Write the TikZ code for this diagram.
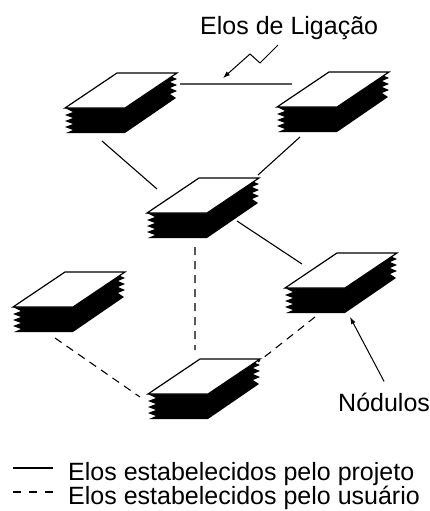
\documentclass[tikz,border=0pt]{standalone}
\usepackage{fontspec}
\setmainfont{Liberation Sans}
\usetikzlibrary{calc,arrows.meta}

\begin{document}
\begin{tikzpicture}[x=1pt,y=-1pt,
  every node/.style={font=\fontsize{25}{22}\selectfont,inner sep=0pt},
  link/.style={line width=1.1pt},
  userlink/.style={line width=1.1pt,dash pattern=on 8pt off 6pt},
  pointer/.style={line width=1pt,-{Latex[length=7pt,width=5pt]}},
  pics/stack/.style={code={
    \fill (0,0) -- (60,0) -- (112,-35) -- (105,-32) -- (112,-29) -- (105,-26)
      -- (112,-23) -- (105,-20) -- (112,-17) -- (105,-14) -- (111,-10)
      -- (60,25) -- (1,25) -- (8,22) -- (0,19) -- (8,16) -- (0,13)
      -- (8,10) -- (0,7) -- (8,4) -- cycle;
    \draw[fill=white,line width=1.2pt] (0,0) -- (60,0) -- (112,-35) -- (52,-35) -- cycle;
  }}]
\useasboundingbox (0,0) rectangle (430,511);

%%% the six stacks of nodules %%%
  \coordinate (s1) at (65,108);
  \coordinate (s2) at (277,107);
  \coordinate (s3) at (147,213);
  \coordinate (s4) at (13,307);
  \coordinate (s5) at (285,288);
  \coordinate (s6) at (148,394);

  \pic at (s1) {stack};
  \pic at (s2) {stack};
  \pic at (s3) {stack};
  \pic at (s4) {stack};
  \pic at (s5) {stack};
  \pic at (s6) {stack};

%%% links %%%
\draw[link]
   ($(s1)+(115,-24)$) -- ($(s2)+(15,-23)$)
   ($(s1)+(37,33)$) -- ($(s3)+(10,-24)$)
   ($(s2)+(23,30)$) -- ($(s3)+(111,-38)$)
   ($(s3)+(90,8)$) -- ($(s5)+(17,-24)$);

\draw[userlink]
   ($(s3)+(48,34)$) -- ($(s6)+(47,-44)$)
   ($(s4)+(42,31)$) -- ($(s6)+(-8,3)$)
   ($(s5)+(30,29)$) -- ($(s6)+(110,-32)$);

%%% labels %%%
\node[anchor=base west] (elos) at (200,35) {Elos de Ligação};
\node[anchor=base west] (nod) at (338,411) {Nódulos};

\coordinate (zz) at (278,45);
\draw[pointer] (zz) -- ++(-18,18) -- ++(-10,-9) -- ($(s1)+(158,-30)$);
\draw[pointer] ([yshift=11pt]nod.north) -- ($(s5)+(65,29)$);

%%% legend %%%
\node[anchor=north west,align=left] (leg) at (68,462)
   {Elos estabelecidos pelo projeto\\Elos estabelecidos pelo usuário};

\draw[link] ($(leg.north west)+(-55,6)$) -- ($(leg.north west)+(-15,6)$);
\draw[line width=1.1pt,dash pattern=on 8pt off 8pt]
   ($(leg.north west)+(-55,30)$) -- ($(leg.north west)+(-15,30)$);
\end{tikzpicture}
\end{document}
